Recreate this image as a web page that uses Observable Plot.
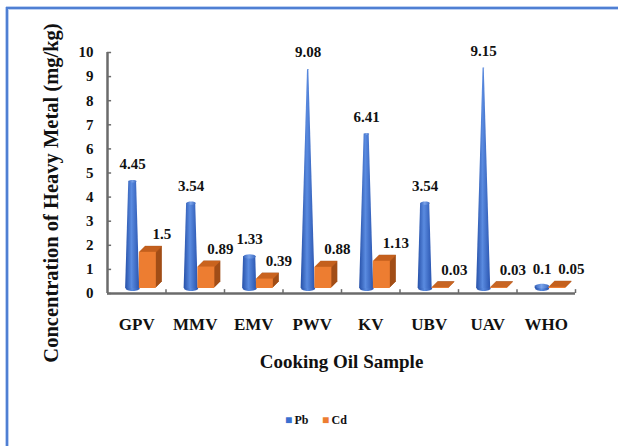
<!DOCTYPE html>
<html>
<head>
<meta charset="utf-8">
<script src="https://cdn.jsdelivr.net/npm/d3@7"></script>
<script src="https://cdn.jsdelivr.net/npm/@observablehq/plot@0.6"></script>
<style>
  html, body { margin: 0; padding: 0; background: #fff; }
  #wrap { width: 618px; height: 446px; overflow: hidden; }
  #wrap svg { display: block; }
  #wrap svg text { font-family: "Liberation Serif", "Times New Roman", serif; font-weight: bold; }
</style>
</head>
<body>
<div id="wrap"></div>
<script>
// Cooking oil samples and measured heavy metal concentrations (mg/kg)
const categories = ["GPV", "MMV", "EMV", "PWV", "KV", "UBV", "UAV", "WHO"];
const pbValues = [4.45, 3.54, 1.33, 9.08, 6.41, 3.54, 9.15, 0.1];
const cdValues = [1.5, 0.89, 0.39, 0.88, 1.13, 0.03, 0.03, 0.05];
const yTicks = [0, 1, 2, 3, 4, 5, 6, 7, 8, 9, 10];
const seriesNames = ["Pb", "Cd"];
const yTitle = "Concentration of Heavy Metal (mg/kg)";
const xTitle = "Cooking Oil Sample";

const serif = "Liberation Serif";
const W = 618, H = 446;
const margin = {left: 107, right: 43, top: 52, bottom: 153};
const pbColor = "#3a6fd0";
const cdColor = "#ed7d31";
const cdSide = "#a24e17";
const cdTop = "#c9631f";
const lift = -5;          // bars sit slightly behind the axis line (3-D floor)
const coneOffset = -0.07, coneHalf = 0.12;
const boxOffset = 0.19, boxHalf = 0.145;
const yMax = 10;
const bandPx = (W - margin.left - margin.right) / categories.length;

// flattened ellipse used for the round ends of the cones
const ellipse = {
  draw(ctx, size) {
    const rx = Math.sqrt(size / Math.PI), ry = rx * 0.35, k = 0.5523;
    ctx.moveTo(rx, 0);
    ctx.bezierCurveTo(rx, ry * k, rx * k, ry, 0, ry);
    ctx.bezierCurveTo(-rx * k, ry, -rx, ry * k, -rx, 0);
    ctx.bezierCurveTo(-rx, -ry * k, -rx * k, -ry, 0, -ry);
    ctx.bezierCurveTo(rx * k, -ry, rx, -ry * k, rx, 0);
    ctx.closePath();
  }
};

// Pb cones: truncated cones whose apex would sit at the top of the value axis
const coneRows = [];
pbValues.forEach((v, i) => {
  const c = i + coneOffset;
  coneRows.push({cat: categories[i], y: 0, x1: c - coneHalf, x2: c + coneHalf});
  const h = coneHalf * (1 - v / yMax);
  coneRows.push({cat: categories[i], y: v, x1: c - h, x2: c + h});
});
const pbRows = pbValues.map((v, i) => ({i, v, x: i + coneOffset, cap: coneHalf * (1 - v / yMax) * bandPx}));
const cdRows = cdValues.map((v, i) => ({i, v, x: i + boxOffset, x1: i + boxOffset - boxHalf, x2: i + boxOffset + boxHalf}));

const depth = d3.range(6, 0, -1);
const boxSides = depth.map(k => Plot.rectY(cdRows, {x1: "x1", x2: "x2", y1: 0, y2: "v", fill: cdSide, dx: k, dy: lift - k}));
const boxTops = depth.map(k => Plot.ruleY(cdRows, {y: "v", x1: "x1", x2: "x2", stroke: cdTop, strokeWidth: 1.2, dx: k - 0.5, dy: lift - k + 0.5}));
const txt = {fontFamily: serif, fontWeight: "bold", fill: "#111"};

const chart = Plot.plot({
  width: W,
  height: H,
  marginLeft: margin.left,
  marginRight: margin.right,
  marginTop: margin.top,
  marginBottom: margin.bottom,
  style: {fontFamily: serif, fontWeight: "bold", color: "#111", background: "transparent", overflow: "visible"},
  x: {domain: [-0.5, categories.length - 0.5]},
  y: {domain: [0, yMax]},
  r: {type: "identity"},
  marks: [
    Plot.axisY({ticks: yTicks, tickSize: 0, tickPadding: 14, fontSize: 15, label: null, fontFamily: serif}),
    Plot.axisX({ticks: d3.range(categories.length), tickFormat: i => categories[i], tickSize: 0, tickPadding: 24, fontSize: 17, label: null, fontFamily: serif}),
    // inward tick marks on the value axis
    Plot.ruleY(yTicks, {x1: -0.5, x2: -0.43, stroke: "#6b6b6b", strokeWidth: 1.5}),
    // category separators
    Plot.ruleX(d3.range(categories.length).map(i => i + 0.5), {y1: 0, y2: 0.16, stroke: "#6b6b6b", strokeWidth: 1.5}),
    Plot.ruleY([0], {stroke: "#6b6b6b", strokeWidth: 2.5}),
    Plot.ruleX([-0.5], {stroke: "#6b6b6b", strokeWidth: 2.5}),
    // cones: base ellipse, tapered body, rounded top
    Plot.dot(pbRows, {x: "x", y: 0, r: coneHalf * bandPx, symbol: ellipse, fill: "url(#coneFill)", stroke: "none", dy: lift}),
    Plot.areaX(coneRows, {y: "y", x1: "x1", x2: "x2", z: "cat", fill: "url(#coneFill)", dy: lift}),
    Plot.dot(pbRows, {x: "x", y: "v", r: "cap", symbol: ellipse, fill: "url(#capFill)", stroke: "none", dy: lift}),
    // Cd boxes: extruded side, top face, front face
    ...boxSides,
    ...boxTops,
    Plot.rectY(cdRows, {x1: "x1", x2: "x2", y1: 0, y2: "v", fill: cdColor, dy: lift}),
    Plot.text(pbRows, {x: "x", y: "v", text: d => String(d.v), dy: lift - 17, fontSize: 15, ...txt}),
    Plot.text(cdRows, {x: "x", y: "v", text: d => String(d.v), dx: 14, dy: lift - 18, fontSize: 15, ...txt}),
    Plot.text([yTitle], {frameAnchor: "left", textAnchor: "middle", rotate: -90, dx: -56, dy: 20, fontSize: 20.5, ...txt}),
    Plot.text([xTitle], {frameAnchor: "bottom", textAnchor: "middle", dy: 74, fontSize: 19, ...txt}),
    // legend
    Plot.text(["■"], {frameAnchor: "bottom", textAnchor: "middle", dx: -53, dy: 130, fontSize: 12, fill: pbColor}),
    Plot.text([seriesNames[0]], {frameAnchor: "bottom", textAnchor: "start", dx: -47, dy: 130, fontSize: 12, ...txt}),
    Plot.text(["■"], {frameAnchor: "bottom", textAnchor: "middle", dx: -16, dy: 130, fontSize: 12, fill: cdColor}),
    Plot.text([seriesNames[1]], {frameAnchor: "bottom", textAnchor: "start", dx: -10, dy: 130, fontSize: 12, ...txt})
  ]
});

// gradients for the cone shading
const svg = d3.select(chart);
const defs = svg.insert("defs", ":first-child");
const grad = defs.append("linearGradient")
  .attr("id", "coneFill").attr("x1", "0").attr("x2", "1").attr("y1", "0").attr("y2", "0");
grad.append("stop").attr("offset", "0").attr("stop-color", "#2650a8");
grad.append("stop").attr("offset", "0.45").attr("stop-color", "#5a8be0");
grad.append("stop").attr("offset", "1").attr("stop-color", "#2a55b0");
const cap = defs.append("linearGradient")
  .attr("id", "capFill").attr("x1", "0").attr("x2", "1").attr("y1", "0").attr("y2", "0");
cap.append("stop").attr("offset", "0").attr("stop-color", "#3a68c0");
cap.append("stop").attr("offset", "0.45").attr("stop-color", "#7aa3ea");
cap.append("stop").attr("offset", "1").attr("stop-color", "#3a68c0");

// thin blue border framing the figure on its top and left sides
[["#bcd0f2", 4], ["#4f7fd3", 2]].forEach(([color, width]) => {
  svg.append("line").attr("x1", 6).attr("x2", W).attr("y1", 8).attr("y2", 8)
    .attr("stroke", color).attr("stroke-width", width);
  svg.append("line").attr("x1", 7).attr("x2", 7).attr("y1", 7).attr("y2", H)
    .attr("stroke", color).attr("stroke-width", width);
});

document.getElementById("wrap").append(chart);
</script>
</body>
</html>
